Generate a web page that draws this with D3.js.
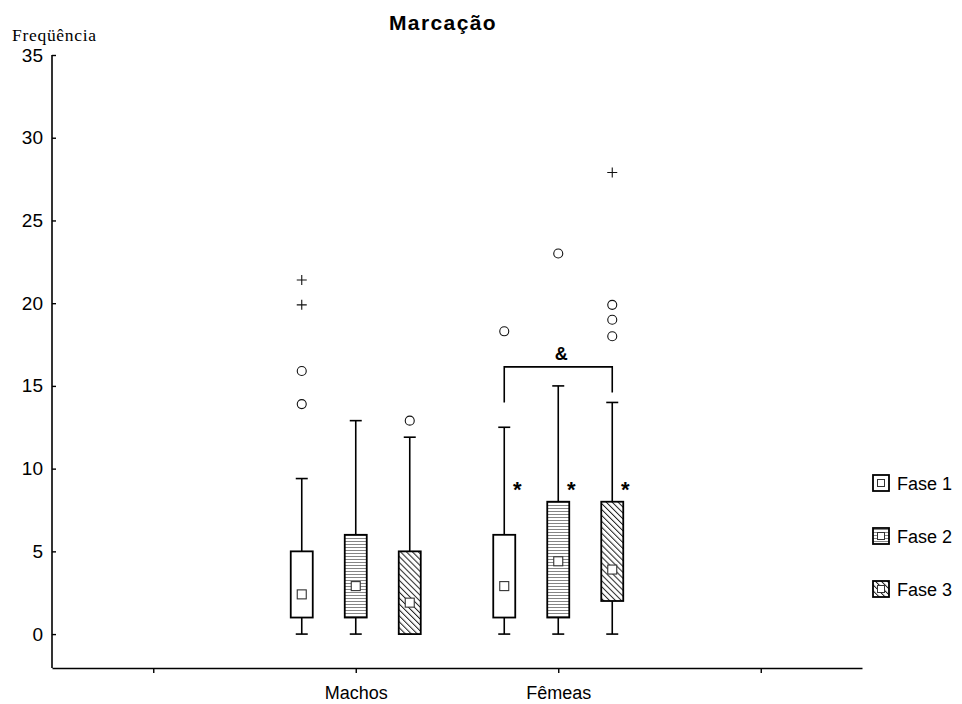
<!DOCTYPE html>
<html><head><meta charset="utf-8">
<script src="https://cdn.jsdelivr.net/npm/d3@7"></script>
<style>body{margin:0;background:#fff}svg{display:block}</style>
</head><body>
<svg id="c" width="962" height="704"></svg>
<script>
// ---- data ----
const categories = ["Machos", "Fêmeas"];
const categoryPos = [1, 2];
const xTickPos = [0, 1, 2, 3];
const fases = ["Fase 1", "Fase 2", "Fase 3"];
const whiskerLow = [[0, 0, 0], [0, 0, 0]];
const q1 = [[1, 1, 0], [1, 1, 2]];
const q3 = [[5, 6, 5], [6, 8, 8]];
const whiskerHigh = [[9.4, 12.9, 11.9], [12.5, 15, 14]];
const means = [[2.4, 2.9, 1.9], [2.9, 4.4, 3.9]];
const outliers = [[[13.9, 15.9], [], [12.9]], [[18.3], [23], [18, 19, 19.9]]];
const extremes = [[[19.9, 21.4], [], []], [[], [], [27.9]]];
const yTicks = [0, 5, 10, 15, 20, 25, 30, 35];
const asteriskY = [[null, null, null], [9, 9, 9]];
const bracket = { group: 1, from: 0, to: 2, top: 16.15, leftEnd: 14, rightEnd: 14.6, label: "&", labelY: 17 };

// ---- scales ----
const svg = d3.select("#c");
const y = d3.scaleLinear().domain([-2.05, 35]).range([668, 55]);
const x = d3.scaleLinear().domain([-0.5, 3.5]).range([52, 862]);
const xSub = d3.scalePoint().domain(fases).range([-54, 54]);
const boxW = 22;
const SANS = "Liberation Sans, Arial, sans-serif";

// ---- patterns ----
const defs = svg.append("defs");
const p2 = defs.append("pattern").attr("id", "hor").attr("patternUnits", "userSpaceOnUse")
  .attr("width", 6).attr("height", 3);
p2.append("rect").attr("width", 6).attr("height", 3).attr("fill", "#fff");
p2.append("line").attr("x1", 0).attr("x2", 6).attr("y1", 1.5).attr("y2", 1.5)
  .attr("stroke", "#777").attr("stroke-width", 0.9);
const p3 = defs.append("pattern").attr("id", "diag").attr("patternUnits", "userSpaceOnUse")
  .attr("width", 6).attr("height", 4.2).attr("patternTransform", "rotate(45)");
p3.append("rect").attr("width", 6).attr("height", 4.2).attr("fill", "#fff");
p3.append("line").attr("x1", 0).attr("x2", 6).attr("y1", 2).attr("y2", 2)
  .attr("stroke", "#222").attr("stroke-width", 1);
const fills = ["#fff", "url(#hor)", "url(#diag)"];

// ---- title & labels ----
svg.append("text").attr("x", 443).attr("y", 30).attr("text-anchor", "middle")
  .attr("font-family", SANS).attr("font-weight", "bold")
  .attr("font-size", 21).attr("letter-spacing", 1.4).text("Marcação");
svg.append("text").attr("x", 12).attr("y", 41)
  .attr("font-family", "Liberation Serif, Times New Roman, serif")
  .attr("font-size", 17.5).attr("letter-spacing", 0.7).text("Freqüência");

// ---- y axis ----
const yAxis = svg.append("g").attr("transform", "translate(52,0)")
  .call(d3.axisLeft(y).tickValues(yTicks).tickSizeInner(-4).tickSizeOuter(0).tickPadding(9));
yAxis.select(".domain").attr("d", `M0,${y(35)}V${y(-2.05)}`).attr("stroke-width", 1.6);
yAxis.selectAll(".tick line").attr("stroke-width", 1.4);
yAxis.selectAll("text").attr("font-family", SANS).attr("font-size", 19).attr("fill", "#000");

// ---- x axis ----
const labelMap = new Map(categoryPos.map((p, i) => [p, categories[i]]));
const xAxis = svg.append("g").attr("transform", `translate(0,${y(-2.05)})`)
  .call(d3.axisBottom(x).tickValues(xTickPos).tickSizeInner(5).tickSizeOuter(0).tickPadding(13)
    .tickFormat(d => labelMap.get(d) || ""));
xAxis.select(".domain").attr("stroke-width", 1.6);
xAxis.selectAll(".tick line").attr("stroke-width", 1.4);
xAxis.selectAll("text").attr("font-family", SANS).attr("font-size", 18).attr("fill", "#000");

// ---- boxes ----
categories.forEach((cat, gi) => {
  fases.forEach((f, fi) => {
    const cx = x(categoryPos[gi]) + xSub(f);
    const g = svg.append("g");
    g.append("line").attr("x1", cx).attr("x2", cx).attr("y1", y(q3[gi][fi])).attr("y2", y(whiskerHigh[gi][fi]))
      .attr("stroke", "#000").attr("stroke-width", 1.6);
    g.append("line").attr("x1", cx - 6).attr("x2", cx + 6).attr("y1", y(whiskerHigh[gi][fi])).attr("y2", y(whiskerHigh[gi][fi]))
      .attr("stroke", "#000").attr("stroke-width", 1.6);
    if (whiskerLow[gi][fi] < q1[gi][fi]) {
      g.append("line").attr("x1", cx).attr("x2", cx).attr("y1", y(q1[gi][fi])).attr("y2", y(whiskerLow[gi][fi]))
        .attr("stroke", "#000").attr("stroke-width", 1.6);
      g.append("line").attr("x1", cx - 6).attr("x2", cx + 6).attr("y1", y(whiskerLow[gi][fi])).attr("y2", y(whiskerLow[gi][fi]))
        .attr("stroke", "#000").attr("stroke-width", 1.6);
    }
    g.append("rect").attr("x", cx - boxW / 2).attr("width", boxW)
      .attr("y", y(q3[gi][fi])).attr("height", y(q1[gi][fi]) - y(q3[gi][fi]))
      .attr("fill", fills[fi]).attr("stroke", "#000").attr("stroke-width", 1.8);
    g.append("rect").attr("x", cx - 4.5).attr("y", y(means[gi][fi]) - 4.5).attr("width", 9).attr("height", 9)
      .attr("fill", "#fff").attr("stroke", "#333").attr("stroke-width", 1.1);
    g.selectAll(".o").data(outliers[gi][fi]).join("circle").attr("cx", cx).attr("cy", d => y(d))
      .attr("r", 4.5).attr("fill", "none").attr("stroke", "#111").attr("stroke-width", 1.1);
    g.selectAll(".e").data(extremes[gi][fi]).join("path")
      .attr("d", d => `M${cx - 5},${y(d)}H${cx + 5}M${cx},${y(d) - 5}V${y(d) + 5}`)
      .attr("stroke", "#111").attr("stroke-width", 1.1);
    if (asteriskY[gi][fi] != null) {
      svg.append("text").attr("x", cx + 13).attr("y", y(asteriskY[gi][fi]) + 12).attr("text-anchor", "middle")
        .attr("font-family", SANS).attr("font-weight", "bold")
        .attr("font-size", 22).text("*");
    }
  });
});

// ---- bracket ----
{
  const gx = x(categoryPos[bracket.group]);
  const x1 = gx + xSub(fases[bracket.from]), x2 = gx + xSub(fases[bracket.to]);
  svg.append("path")
    .attr("d", `M${x1},${y(bracket.leftEnd)}V${y(bracket.top)}H${x2}V${y(bracket.rightEnd)}`)
    .attr("fill", "none").attr("stroke", "#000").attr("stroke-width", 1.6);
  svg.append("text").attr("x", (x1 + x2) / 2 + 3).attr("y", y(bracket.labelY) + 7).attr("text-anchor", "middle")
    .attr("font-family", SANS).attr("font-weight", "bold")
    .attr("font-size", 18).text(bracket.label);
}

// ---- legend ----
const leg = svg.append("g");
fases.forEach((f, i) => {
  const cy = 483 + i * 53;
  leg.append("rect").attr("x", 873).attr("y", cy - 8).attr("width", 16).attr("height", 16)
    .attr("fill", fills[i]).attr("stroke", "#000").attr("stroke-width", 1.8);
  leg.append("rect").attr("x", 877.5).attr("y", cy - 3.5).attr("width", 7).attr("height", 7)
    .attr("fill", "#fff").attr("stroke", "#333").attr("stroke-width", 1);
  leg.append("text").attr("x", 897).attr("y", cy + 6.5)
    .attr("font-family", SANS).attr("font-size", 18).text(f);
});
</script>
</body></html>
